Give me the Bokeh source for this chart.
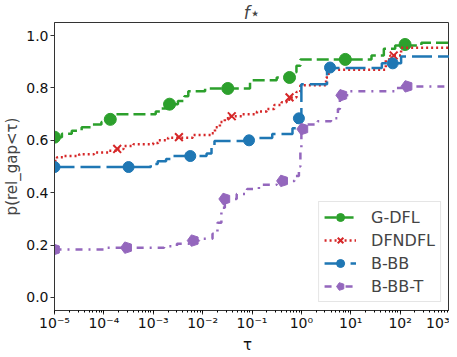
import numpy as np
from bokeh.plotting import figure
from bokeh.layouts import column
from bokeh.models import (FixedTicker, PrintfTickFormatter, Legend, LegendItem, Range1d,
                          CustomJSTickFormatter, Div)
from bokeh.embed import file_html
from bokeh.resources import INLINE

# ---- data (log10 tau, fraction) ----
gdfl_lt = [-5, -4.85, -4.65, -4.45, -4.25, -4.05, -3.9, -3.8, -2.95, -2.85, -2.7, -2.5, -2.37, -2.29, -1.95, -1.04, -0.5, -0.18, -0.1, -0.02, 1.42, 1.67, 1.9, 2.43]
gdfl_y = [0.612, 0.625, 0.637, 0.65, 0.66, 0.67, 0.684, 0.70, 0.71, 0.722, 0.738, 0.75, 0.768, 0.787, 0.798, 0.829, 0.84, 0.86, 0.885, 0.909, 0.924, 0.95, 0.962, 0.973]
gdfl_mk_lt = [-5, -3.87, -2.67, -1.49, -0.24, 0.89, 2.10]
gdfl_mk_y = [0.612, 0.68, 0.738, 0.798, 0.84, 0.909, 0.966]

dfn_lt = [-5, -4.95, -4.8, -4.5, -4.2, -3.9, -3.75, -3.6, -3.4, -3.0, -2.9, -2.7, -2.2, -1.82, -1.75, -1.65, -1.55, -1.45, -1.2, -0.9, -0.7, -0.55, -0.4, -0.3, -0.2, -0.1, -0.02, 0.5, 0.55, 1.71, 1.8, 2.02]
dfn_y = [0.521, 0.535, 0.54, 0.547, 0.553, 0.56, 0.567, 0.578, 0.585, 0.59, 0.60, 0.61, 0.62, 0.627, 0.65, 0.67, 0.684, 0.692, 0.70, 0.71, 0.72, 0.735, 0.745, 0.755, 0.764, 0.785, 0.81, 0.84, 0.87, 0.909, 0.924, 0.954]
dfn_mk_lt = [-3.73, -2.48, -1.41, -0.24, 1.87]
dfn_mk_y = [0.567, 0.612, 0.692, 0.764, 0.924]

bbb_lt = [-5, -3.05, -2.91, -2.74, -2.64, -1.92, -1.82, -1.76, -1.1, -1.0, -0.59, -0.18, -0.08, 0.0, 0.52, 1.63, 2.02]
bbb_y = [0.498, 0.51, 0.52, 0.529, 0.54, 0.55, 0.575, 0.597, 0.605, 0.609, 0.624, 0.646, 0.684, 0.814, 0.876, 0.894, 0.92]
bbb_mk_lt = [-5, -3.5, -2.25, -1.06, -0.05, 0.58, 1.85]
bbb_mk_y = [0.498, 0.498, 0.54, 0.60, 0.684, 0.878, 0.894]

bbbt_lt = [-5, -4.0, -2.78, -2.52, -2.19, -2.07, -1.80, -1.70, -1.62, -1.55, -1.31, -1.10, -0.86, -0.5, -0.14, -0.05, -0.02, 0.0, 0.09, 0.33, 0.60, 0.74, 0.78, 0.99, 1.91, 2.1]
bbbt_y = [0.183, 0.19, 0.195, 0.205, 0.217, 0.224, 0.243, 0.285, 0.342, 0.376, 0.395, 0.414, 0.43, 0.445, 0.464, 0.50, 0.566, 0.643, 0.66, 0.673, 0.684, 0.72, 0.772, 0.787, 0.80, 0.806]
bbbt_mk_lt = [-5, -3.54, -2.19, -1.55, -0.38, 0.03, 0.82, 2.14]
bbbt_mk_y = [0.183, 0.19, 0.217, 0.376, 0.445, 0.643, 0.772, 0.806]

y_ticks = [0.0, 0.2, 0.4, 0.6, 0.8, 1.0]
tau_min, tau_max = 1e-5, 1e3
x_label = "\u03c4"
y_label = "p(rel_gap<\u03c4)"

p = figure(width=449, height=333, x_axis_type="log", output_backend="svg", toolbar_location=None,
           x_range=Range1d(tau_min, tau_max), y_range=Range1d(-0.05, 1.05),
           min_border_left=47, min_border_right=0, min_border_top=18, min_border_bottom=20)
p.title.text = "f\u22c6"
p.title.text_font_style = "italic"
p.title.text_font_size = "17px"
p.title.align = "center"
p.title.text_font = "DejaVu Sans"
p.title.standoff = 0
p.xgrid.visible = False
p.ygrid.visible = False
p.outline_line_color = "#333333"
p.outline_line_width = 1

series = [
    ("G-DFL", gdfl_lt, gdfl_y, gdfl_mk_lt, gdfl_mk_y, "#2ca02c", "12 5", "circle", 12),
    ("DFNDFL", dfn_lt, dfn_y, dfn_mk_lt, dfn_mk_y, "#d62728", "2 3", "x", 11),
    ("B-BB", bbb_lt, bbb_y, bbb_mk_lt, bbb_mk_y, "#1f77b4", "20 6", "circle", 11),
    ("B-BB-T", bbbt_lt, bbbt_y, bbbt_mk_lt, bbbt_mk_y, "#9467bd", "7 6 2 6", "pent", 6),
]

items = []
for name, lt, ys, mlt, my, col, dash, mk, sz in series:
    xs = list(10.0 ** np.array(lt)) + [tau_max]
    yy = list(ys) + [ys[-1]]
    r1 = p.step(xs, yy, mode="after", line_color=col, line_width=2.5, line_dash=dash)
    mx = list(10.0 ** np.array(mlt))
    if mk == "x":
        r2 = p.scatter(mx, my, marker="x", size=sz, line_color=col, line_width=2)
    elif mk == "pent":
        r2 = p.ngon(x=mx, y=my, radius=sz, radius_units="screen", n=5, angle=np.pi / 2,
                    fill_color=col, line_color=col)
    else:
        r2 = p.scatter(mx, my, marker="circle", size=sz, fill_color=col, line_color=col)
    items.append(LegendItem(label=name, renderers=[r1, r2]))

legend = Legend(items=items, location="bottom_right", label_text_font_size="16px",
                label_text_font="DejaVu Sans", glyph_width=32, glyph_height=20, label_height=20,
                spacing=3, padding=5, margin=8, label_standoff=15,
                border_line_color="#cccccc", border_line_width=1, background_fill_alpha=0.9)
p.add_layout(legend, "center")

p.yaxis.ticker = FixedTicker(ticks=y_ticks)
p.yaxis.formatter = PrintfTickFormatter(format="%.1f")
p.yaxis.minor_tick_line_color = None
p.xaxis.ticker.desired_num_ticks = 9
p.xaxis.formatter = CustomJSTickFormatter(code="""
const e = Math.round(Math.log10(tick));
const sup = {"-": "\u207b", "0": "\u2070", "1": "\u00b9", "2": "\u00b2", "3": "\u00b3",
             "4": "\u2074", "5": "\u2075", "6": "\u2076", "7": "\u2077", "8": "\u2078", "9": "\u2079"};
return "10" + String(e).split("").map(c => sup[c]).join("");
""")
p.yaxis.axis_label = y_label
for ax in (p.xaxis, p.yaxis):
    ax.axis_label_text_font_style = "normal"
    ax.axis_label_text_font_size = "15px"
    ax.axis_label_text_font = "DejaVu Sans"
    ax.major_label_text_font_size = "14px"
    ax.major_label_text_font = "DejaVu Sans"
    ax.major_tick_in = 0
    ax.major_tick_out = 4
    ax.minor_tick_in = 0
    ax.minor_tick_out = 2
    ax.axis_line_color = "#333333"
    ax.major_tick_line_color = "#333333"
    ax.major_label_text_color = "#111111"
    ax.major_label_standoff = 2
p.xaxis.major_label_standoff = 0
p.yaxis.axis_label_standoff = 2

xlab = Div(text=('<div style="margin-left:238px;font-size:15px;line-height:8px;'
                 'font-family:\'DejaVu Sans\';color:#111111">' + x_label + '</div>'),
           width=449, height=8)

layout = column(p, xlab, spacing=0)
open("out.html", "w").write(file_html(layout, INLINE))
